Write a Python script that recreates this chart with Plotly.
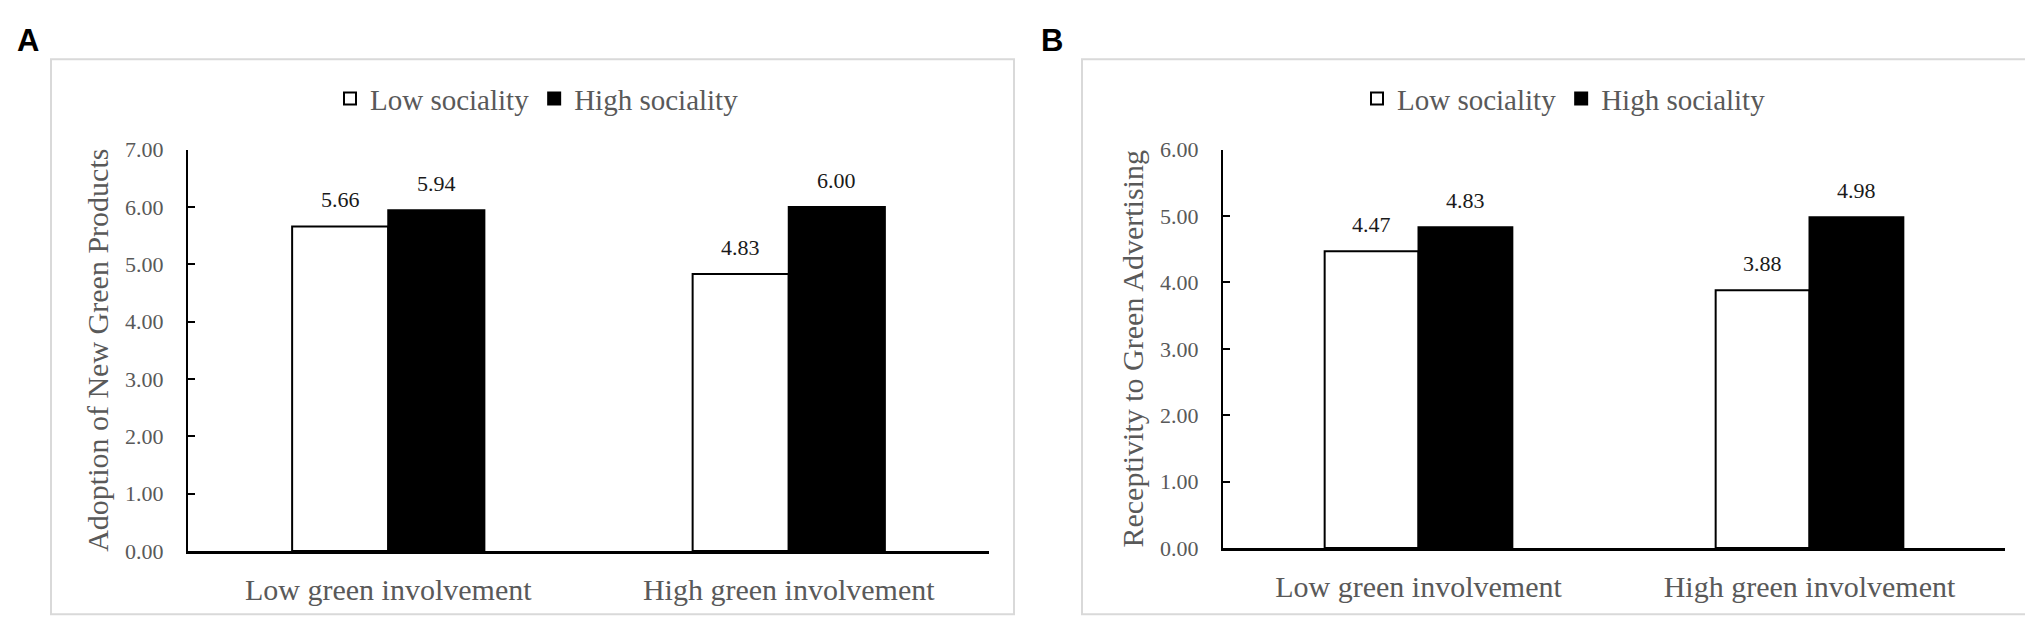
import plotly.graph_objects as go

# ---------------- data ----------------
CATEGORIES = ["Low green involvement", "High green involvement"]
SERIES = ["Low sociality", "High sociality"]

# panel A - adoption of new green products
ADOPTION_LOW = [5.66, 4.83]
ADOPTION_HIGH = [5.94, 6.00]

# panel B - receptivity to green advertising
RECEPT_LOW = [4.47, 3.88]
RECEPT_HIGH = [4.83, 4.98]

Y_TITLES = ["Adoption of New Green Products", "Receptivity to Green Advertising"]
Y_MAX = [7, 6]
PANEL_LETTERS = ["A", "B"]

# ---------------- style ----------------
W, H = 2033, 625
SERIF = "Liberation Serif, Times New Roman, serif"
SANS = "Liberation Sans, Arial, sans-serif"
GRAY = "#595959"
FILLS = ["#ffffff", "#000000"]


def px_x(v):
    return v / W


def px_y(v):
    return 1 - v / H


# panel geometry in pixels: (axis left, axis right, y of zero, y of top)
PANELS = [
    dict(x0=180, x1=981, yb=553, yt=135, frame=(43, 41, 1006, 619),
         legend_cx=529, letter_x=20, shift=48),
    dict(x0=1215, x1=1997, yb=550, yt=135, frame=(1074, 41, 2028, 619),
         legend_cx=1556, letter_x=1044, shift=47),
]

panel_values = [(ADOPTION_LOW, ADOPTION_HIGH), (RECEPT_LOW, RECEPT_HIGH)]

fig = go.Figure()
annotations = []
shapes = []

for i, (p, vals) in enumerate(zip(PANELS, panel_values)):
    sfx = "" if i == 0 else str(i + 1)
    for s, (name, v) in enumerate(zip(SERIES, vals)):
        fig.add_trace(go.Bar(
            x=CATEGORIES, y=v, name=name,
            marker=dict(color=FILLS[s], line=dict(color="#000000", width=2)),
            xaxis="x" + sfx, yaxis="y" + sfx,
            legend="legend" + sfx,
            hoverinfo="skip",
        ))
        # value labels above bars
        for c, val in zip(CATEGORIES, v):
            annotations.append(dict(
                x=c, y=val, xref="x" + sfx, yref="y" + sfx,
                text=f"{val:.2f}", showarrow=False,
                xshift=(-1 if s == 0 else 1) * p["shift"], yshift=12,
                yanchor="bottom",
                font=dict(family=SERIF, size=22, color="#1a1a1a"),
            ))

    fig.layout["xaxis" + sfx] = dict(
        domain=[px_x(p["x0"]), px_x(p["x1"])],
        anchor="y" + sfx,
        showline=True, linecolor="#000000", linewidth=2.5,
        ticks="", showgrid=False, zeroline=False,
        tickfont=dict(family=SERIF, size=30, color=GRAY),
        ticklabelstandoff=10,
        fixedrange=True,
    )
    fig.layout["yaxis" + sfx] = dict(
        domain=[px_y(p["yb"]), px_y(p["yt"])],
        anchor="x" + sfx,
        range=[0, Y_MAX[i]], dtick=1, tickformat=".2f",
        showline=True, linecolor="#000000", linewidth=2,
        ticks="inside", ticklen=7, tickwidth=2, tickcolor="#000000",
        showgrid=False, zeroline=False,
        tickfont=dict(family=SERIF, size=22, color=GRAY),
        ticklabelstandoff=18,
        title=dict(text=Y_TITLES[i], standoff=8,
                   font=dict(family=SERIF, size=30, color=GRAY)),
        fixedrange=True,
    )
    fig.layout["legend" + sfx] = dict(
        orientation="h",
        x=px_x(p["legend_cx"]), xanchor="center",
        y=px_y(82), yanchor="middle",
        font=dict(family=SERIF, size=29, color=GRAY),
        bgcolor="rgba(0,0,0,0)",
        itemclick=False, itemdoubleclick=False,
    )

    fx0, fy0, fx1, fy1 = p["frame"]
    shapes.append(dict(
        type="rect", xref="paper", yref="paper",
        x0=px_x(fx0), x1=px_x(fx1), y0=px_y(fy1), y1=px_y(fy0),
        line=dict(color="#d9d9d9", width=2), fillcolor="rgba(0,0,0,0)",
        layer="below",
    ))
    annotations.append(dict(
        x=px_x(p["letter_x"]), y=px_y(21), xref="paper", yref="paper",
        text=f"<b>{PANEL_LETTERS[i]}</b>", showarrow=False,
        xanchor="center", yanchor="middle",
        font=dict(family=SANS, size=31, color="#000000"),
    ))

fig.update_layout(
    width=W, height=H,
    margin=dict(l=0, r=0, t=0, b=0),
    paper_bgcolor="white", plot_bgcolor="white",
    barmode="group", bargap=0.52, bargroupgap=0,
    annotations=annotations, shapes=shapes,
    showlegend=True,
)

fig.write_html("out.html", config={"displayModeBar": False})
